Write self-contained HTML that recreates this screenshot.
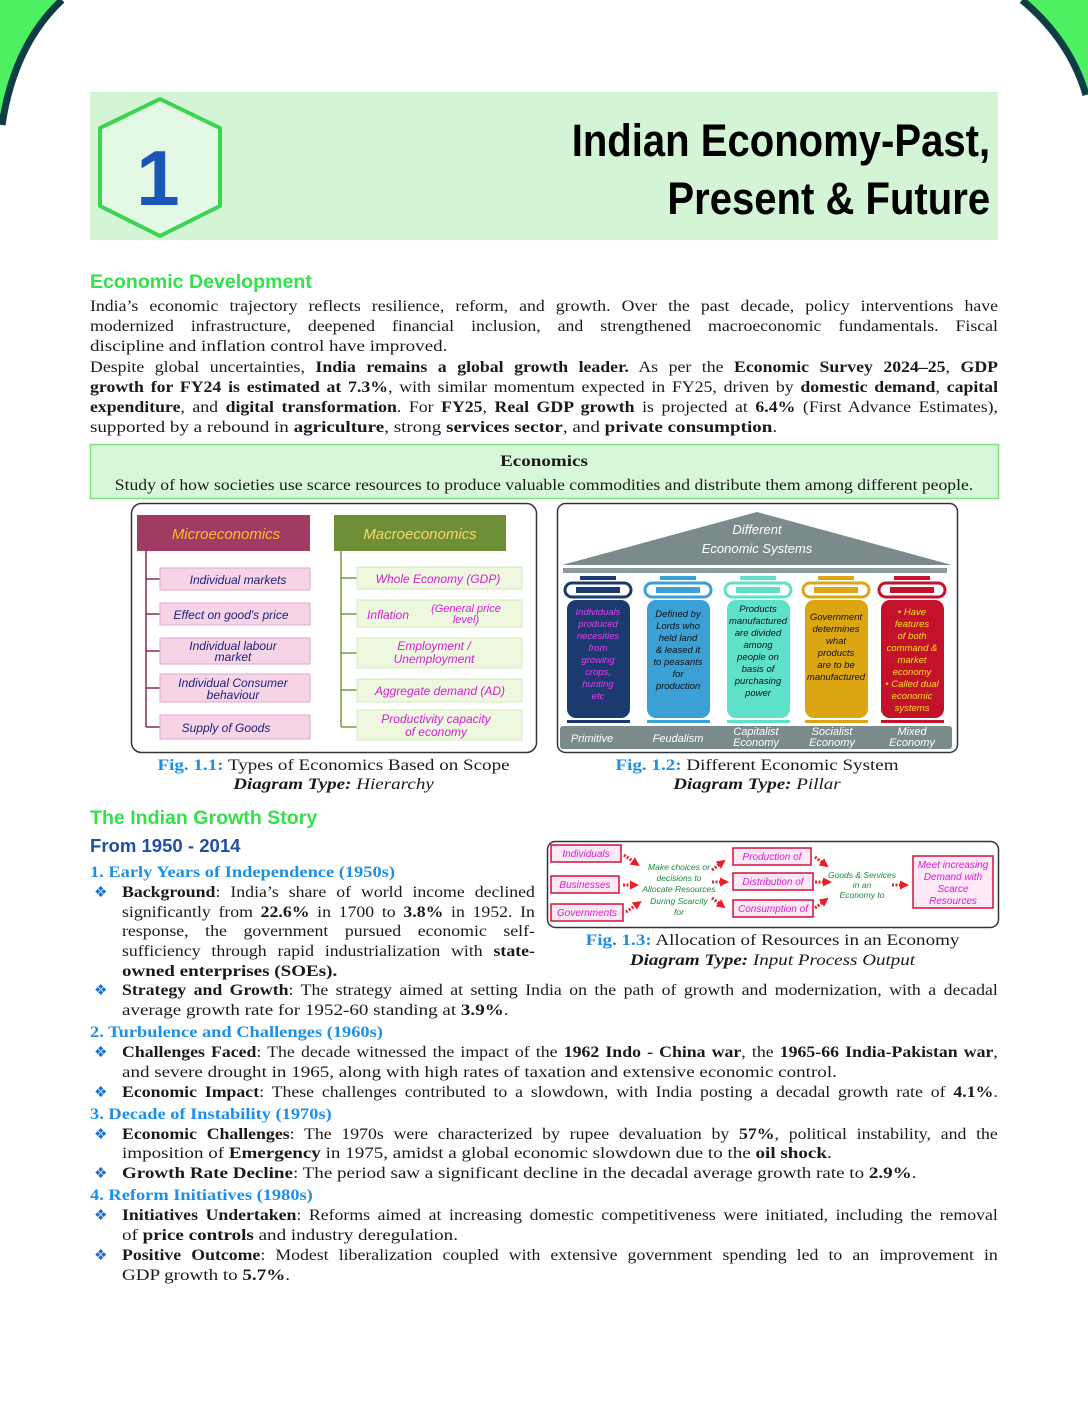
<!DOCTYPE html>
<html><head><meta charset="utf-8">
<style>
*{margin:0;padding:0;box-sizing:border-box}
html,body{width:1088px;height:1408px;background:#fff;overflow:hidden}
body{position:relative;font-family:"Liberation Serif",serif;font-size:16px;color:#1a1a1a}
.l{position:absolute;height:20px;line-height:20px;white-space:nowrap;transform-origin:0 0;transform:scaleX(1.19)}
.c{transform-origin:50% 0}
.l.j{text-align:justify;text-align-last:justify;white-space:normal;overflow:hidden;transform:scaleX(1.11)}
.w1{width:818px}.w2{width:789px}.w3{width:372px}
.b{font-weight:bold}
.l.h{font-family:"Liberation Sans",sans-serif;font-weight:bold;color:#34e04c;font-size:19px;height:24px;line-height:24px;transform:scaleX(1.03)}
.l.sh{font-weight:bold;color:#1e8fe6;transform:scaleX(1.15)}
.bu{position:absolute;left:94px;color:#1e6fd0;font-size:15px;height:20px;line-height:20px}
.cap{text-align:center;font-size:16px}
.cap .f{color:#1e8fe6;font-weight:bold}
svg text{font-family:"Liberation Sans",sans-serif}
</style></head><body>
<svg width="1088" height="1408" style="position:absolute;left:0;top:0">
<defs><marker id="a" markerUnits="userSpaceOnUse" markerWidth="9" markerHeight="9" refX="2" refY="4.5" orient="auto"><path d="M0,0 L9,4.5 L0,9 Z" fill="#e8202a"/></marker></defs>
<path d="M0,0 L62,0 Q12,45 0,125 Z" fill="#4cf060"/>
<path d="M62,0 Q14,45 2,125" fill="none" stroke="#0f3d45" stroke-width="7"/>
<path d="M1088,0 L1022,0 Q1072,40 1088,95 Z" fill="#4cf060"/>
<path d="M1022,0 Q1070,40 1086,95" fill="none" stroke="#0f3d45" stroke-width="7"/>
<rect x="90" y="92" width="908" height="148" fill="#d3f5d6"/>
<polygon points="160,99 220,128 220,206 160,236 100,206 100,128" fill="#e4f8e6" stroke="#3cd34e" stroke-width="4" stroke-linejoin="round"/>
<text x="158" y="205" font-size="78" font-weight="bold" fill="#1a55b8" text-anchor="middle">1</text>
<rect x="90.5" y="444.5" width="908" height="54" fill="#d6f7d8" stroke="#7fe082" stroke-width="1.5"/>

<rect x="131.5" y="503.5" width="405" height="249" rx="10" fill="#fff" stroke="#333" stroke-width="1.5"/>
<rect x="137" y="515" width="173" height="36" fill="#a23b63"/>
<text x="226" y="539" font-size="15" fill="#f6c02a" text-anchor="middle" font-style="italic">Microeconomics</text>
<rect x="334" y="515" width="172" height="36" fill="#6f8f36"/>
<text x="420" y="539" font-size="15" fill="#f5d76e" text-anchor="middle" font-style="italic">Macroeconomics</text>
<g stroke="#8a2a4a" stroke-width="1.5"><line x1="146" y1="551" x2="146" y2="727"/>
<line x1="146" y1="579" x2="160" y2="579"/><line x1="146" y1="614" x2="160" y2="614"/><line x1="146" y1="651" x2="160" y2="651"/><line x1="146" y1="688" x2="160" y2="688"/><line x1="146" y1="727" x2="160" y2="727"/></g>
<g fill="#f7d3e6" stroke="#e0a8c8"><rect x="160" y="568" width="150" height="22"/><rect x="160" y="603" width="150" height="22"/><rect x="160" y="638" width="150" height="26"/><rect x="160" y="674" width="150" height="28"/><rect x="160" y="715" width="150" height="24"/></g>
<g fill="#1a237e" font-size="12" text-anchor="middle" font-style="italic">
<text x="238" y="584">Individual markets</text><text x="231" y="619">Effect on good's price</text>
<text x="233" y="650">Individual labour</text><text x="233" y="661">market</text>
<text x="233" y="687">Individual Consumer</text><text x="233" y="699">behaviour</text>
<text x="226" y="732">Supply of Goods</text></g>
<g stroke="#7a9a40" stroke-width="1.5"><line x1="341" y1="551" x2="341" y2="727"/>
<line x1="341" y1="578" x2="357" y2="578"/><line x1="341" y1="614" x2="357" y2="614"/><line x1="341" y1="653" x2="357" y2="653"/><line x1="341" y1="690" x2="357" y2="690"/><line x1="341" y1="727" x2="357" y2="727"/></g>
<g fill="#eef8df" stroke="#d5e8c0"><rect x="357" y="567" width="165" height="22"/><rect x="357" y="600" width="165" height="27"/><rect x="357" y="638" width="165" height="30"/><rect x="357" y="679" width="165" height="23"/><rect x="357" y="710" width="165" height="30"/></g>
<g fill="#d81bd8" font-size="12" text-anchor="middle" font-style="italic">
<text x="438" y="583">Whole Economy (GDP)</text>
<text x="388" y="619">Inflation</text><text x="466" y="612" font-size="11">(General price</text><text x="466" y="623" font-size="11">level)</text>
<text x="434" y="650">Employment /</text><text x="434" y="663">Unemployment</text>
<text x="440" y="695">Aggregate demand (AD)</text>
<text x="436" y="723">Productivity capacity</text><text x="436" y="736">of economy</text></g>

<rect x="557.5" y="503.5" width="400" height="249" rx="8" fill="#fff" stroke="#333" stroke-width="1.5"/>
<polygon points="562,565 757,512 952,565" fill="#7b8b8b"/>
<text x="757" y="534" font-size="13" fill="#fff" text-anchor="middle" font-style="italic">Different</text>
<text x="757" y="553" font-size="13" fill="#fff" text-anchor="middle" font-style="italic">Economic Systems</text>
<rect x="563" y="568" width="384" height="5" fill="#8a9a9a"/>
<g>
<rect x="580" y="576" width="36" height="4" fill="#1b3a6e"/><rect x="565" y="583" width="66" height="14" rx="7" fill="#fff" stroke="#1b3a6e" stroke-width="3"/><rect x="576" y="587" width="44" height="6" fill="#1b3a6e"/><rect x="567" y="600" width="63" height="118" rx="9" fill="#1b3a6e"/><rect x="567" y="720" width="63" height="3" fill="#1b3a6e"/>
<rect x="660" y="576" width="36" height="4" fill="#3aa0d5"/><rect x="645" y="583" width="66" height="14" rx="7" fill="#fff" stroke="#3aa0d5" stroke-width="3"/><rect x="656" y="587" width="44" height="6" fill="#3aa0d5"/><rect x="647" y="600" width="63" height="118" rx="9" fill="#3aa0d5"/><rect x="647" y="720" width="63" height="3" fill="#3aa0d5"/>
<rect x="740" y="576" width="36" height="4" fill="#5fe0c8"/><rect x="725" y="583" width="66" height="14" rx="7" fill="#fff" stroke="#5fe0c8" stroke-width="3"/><rect x="736" y="587" width="44" height="6" fill="#5fe0c8"/><rect x="727" y="600" width="63" height="118" rx="9" fill="#5fe0c8"/><rect x="727" y="720" width="63" height="3" fill="#5fe0c8"/>
<rect x="818" y="576" width="36" height="4" fill="#dca512"/><rect x="803" y="583" width="66" height="14" rx="7" fill="#fff" stroke="#dca512" stroke-width="3"/><rect x="814" y="587" width="44" height="6" fill="#dca512"/><rect x="805" y="600" width="63" height="118" rx="9" fill="#dca512"/><rect x="805" y="720" width="63" height="3" fill="#dca512"/>
<rect x="894" y="576" width="36" height="4" fill="#c4122c"/><rect x="879" y="583" width="66" height="14" rx="7" fill="#fff" stroke="#c4122c" stroke-width="3"/><rect x="890" y="587" width="44" height="6" fill="#c4122c"/><rect x="881" y="600" width="63" height="118" rx="9" fill="#c4122c"/><rect x="881" y="720" width="63" height="3" fill="#c4122c"/>
</g>
<g font-size="9.5" text-anchor="middle" font-style="italic">
<g fill="#e040f0"><text x="598" y="615">Individuals</text><text x="598" y="627">produced</text><text x="598" y="639">necesities</text><text x="598" y="651">from</text><text x="598" y="663">growing</text><text x="598" y="675">crops,</text><text x="598" y="687">hunting</text><text x="598" y="699">etc</text></g>
<g fill="#111"><text x="678" y="617">Defined by</text><text x="678" y="629">Lords who</text><text x="678" y="641">held land</text><text x="678" y="653">&amp; leased it</text><text x="678" y="665">to peasants</text><text x="678" y="677">for</text><text x="678" y="689">production</text>
<text x="758" y="612">Products</text><text x="758" y="624">manufactured</text><text x="758" y="636">are divided</text><text x="758" y="648">among</text><text x="758" y="660">people on</text><text x="758" y="672">basis of</text><text x="758" y="684">purchasing</text><text x="758" y="696">power</text>
<text x="836" y="620">Government</text><text x="836" y="632">determines</text><text x="836" y="644">what</text><text x="836" y="656">products</text><text x="836" y="668">are to be</text><text x="836" y="680">manufactured</text></g>
<g fill="#f5e020"><text x="912" y="615">• Have</text><text x="912" y="627">features</text><text x="912" y="639">of both</text><text x="912" y="651">command &amp;</text><text x="912" y="663">market</text><text x="912" y="675">economy</text><text x="912" y="687">• Called dual</text><text x="912" y="699">economic</text><text x="912" y="711">systems</text></g></g>
<rect x="560" y="726" width="392" height="23" rx="3" fill="#7b8b8b"/>
<g fill="#fff" font-size="11" text-anchor="middle" font-style="italic"><text x="592" y="742">Primitive</text><text x="678" y="742">Feudalism</text><text x="756" y="735">Capitalist</text><text x="756" y="746">Economy</text><text x="832" y="735">Socialist</text><text x="832" y="746">Economy</text><text x="912" y="735">Mixed</text><text x="912" y="746">Economy</text></g>

<rect x="547.5" y="841.5" width="451" height="86" rx="8" fill="#fff" stroke="#333" stroke-width="1.5"/>
<g fill="#fde8f5" stroke="#d0103a" stroke-width="1.5">
<rect x="551" y="845" width="70" height="17"/><rect x="551" y="876" width="68" height="17"/><rect x="551" y="904" width="72" height="17"/>
<rect x="733" y="848" width="78" height="17"/><rect x="733" y="873" width="80" height="17"/><rect x="733" y="900" width="80" height="17"/>
<rect x="913" y="856" width="80" height="52"/></g>
<g fill="#d81bd8" font-size="10" text-anchor="middle" font-style="italic">
<text x="586" y="857">Individuals</text><text x="585" y="888">Businesses</text><text x="587" y="916">Governments</text>
<text x="772" y="860">Production of</text><text x="773" y="885">Distribution of</text><text x="773" y="912">Consumption of</text>
<text x="953" y="868">Meet increasing</text><text x="953" y="880">Demand with</text><text x="953" y="892">Scarce</text><text x="953" y="904">Resources</text></g>
<g fill="#1a8a3a" font-size="8.5" text-anchor="middle" font-style="italic">
<text x="679" y="870">Make choices or</text><text x="679" y="881">decisions to</text><text x="679" y="892">Allocate Resources</text><text x="679" y="904">During Scarcity</text><text x="679" y="915">for</text>
<text x="862" y="878">Goods &amp; Services</text><text x="862" y="888">in an</text><text x="862" y="898">Economy to</text></g>
<g stroke="#e8202a" stroke-width="3" stroke-dasharray="2,1.5" fill="none" marker-end="url(#a)">
<line x1="624" y1="855" x2="634" y2="862"/><line x1="623" y1="885" x2="632" y2="885"/><line x1="626" y1="912" x2="636" y2="905"/>
<line x1="712" y1="870" x2="720" y2="864"/><line x1="712" y1="882" x2="722" y2="882"/><line x1="712" y1="898" x2="720" y2="904"/>
<line x1="815" y1="857" x2="823" y2="863"/><line x1="815" y1="882" x2="825" y2="882"/><line x1="815" y1="908" x2="823" y2="902"/>
<line x1="892" y1="885" x2="902" y2="885"/></g>
</svg>

<div style="position:absolute;right:98px;top:112px;text-align:right;font-family:'Liberation Sans Narrow','Liberation Sans',sans-serif;font-weight:bold;font-size:45px;line-height:58px;color:#000;transform-origin:100% 0;transform:scaleX(0.89)">Indian Economy-Past,<br>Present &amp; Future</div>

<div class="l h" style="left:90px;top:271px">Economic Development</div>
<div class="l j w1" style="left:90px;top:297px">India’s economic trajectory reflects resilience, reform, and growth. Over the past decade, policy interventions have</div>
<div class="l j w1" style="left:90px;top:317px">modernized infrastructure, deepened financial inclusion, and strengthened macroeconomic fundamentals. Fiscal</div>
<div class="l" style="left:90px;top:337px">discipline and inflation control have improved.</div>
<div class="l j w1" style="left:90px;top:358px">Despite global uncertainties, <b>India remains a global growth leader.</b> As per the <b>Economic Survey 2024–25</b>, <b>GDP</b></div>
<div class="l j w1" style="left:90px;top:378px"><b>growth for FY24 is estimated at 7.3%</b>, with similar momentum expected in FY25, driven by <b>domestic demand</b>, <b>capital</b></div>
<div class="l j w1" style="left:90px;top:398px"><b>expenditure</b>, and <b>digital transformation</b>. For <b>FY25</b>, <b>Real GDP growth</b> is projected at <b>6.4%</b> (First Advance Estimates),</div>
<div class="l" style="left:90px;top:418px">supported by a rebound in <b>agriculture</b>, strong <b>services sector</b>, and <b>private consumption</b>.</div>

<div class="l c b" style="left:90px;top:452px;width:908px;text-align:center">Economics</div>
<div class="l c" style="left:90px;top:476px;width:908px;text-align:center;transform:scaleX(1.1)">Study of how societies use scarce resources to produce valuable commodities and distribute them among different people.</div>

<div class="l c cap" style="left:90px;top:756px;width:487px"><span class="f">Fig. 1.1:</span> Types of Economics Based on Scope</div>
<div class="l c cap" style="left:90px;top:775px;width:487px"><b><i>Diagram Type:</i></b> <i>Hierarchy</i></div>
<div class="l c cap" style="left:557px;top:756px;width:400px"><span class="f">Fig. 1.2:</span> Different Economic System</div>
<div class="l c cap" style="left:557px;top:775px;width:400px"><b><i>Diagram Type:</i></b> <i>Pillar</i></div>
<div class="l c cap" style="left:547px;top:931px;width:451px"><span class="f">Fig. 1.3:</span> Allocation of Resources in an Economy</div>
<div class="l c cap" style="left:547px;top:951px;width:451px"><b><i>Diagram Type:</i></b> <i>Input Process Output</i></div>

<div class="l h" style="left:90px;top:807px">The Indian Growth Story</div>
<div class="l h" style="left:90px;top:834px;color:#1f4fa3;font-size:18px">From 1950 - 2014</div>
<div class="l sh" style="left:90px;top:863px">1. Early Years of Independence (1950s)</div>
<div class="bu" style="top:883px">❖</div>
<div class="l j w3" style="left:122px;top:883px"><b>Background</b>: India’s share of world income declined</div>
<div class="l j w3" style="left:122px;top:903px">significantly from <b>22.6%</b> in 1700 to <b>3.8%</b> in 1952. In</div>
<div class="l j w3" style="left:122px;top:922px">response, the government pursued economic self-</div>
<div class="l j w3" style="left:122px;top:942px">sufficiency through rapid industrialization with <b>state-</b></div>
<div class="l b" style="left:122px;top:962px">owned enterprises (SOEs).</div>
<div class="bu" style="top:981px">❖</div>
<div class="l j w2" style="left:122px;top:981px"><b>Strategy and Growth</b>: The strategy aimed at setting India on the path of growth and modernization, with a decadal</div>
<div class="l" style="left:122px;top:1001px">average growth rate for 1952-60 standing at <b>3.9%</b>.</div>

<div class="l sh" style="left:90px;top:1023px">2. Turbulence and Challenges (1960s)</div>
<div class="bu" style="top:1043px">❖</div>
<div class="l j w2" style="left:122px;top:1043px"><b>Challenges Faced</b>: The decade witnessed the impact of the <b>1962 Indo - China war</b>, the <b>1965-66 India-Pakistan war</b>,</div>
<div class="l" style="left:122px;top:1063px">and severe drought in 1965, along with high rates of taxation and extensive economic control.</div>
<div class="bu" style="top:1083px">❖</div>
<div class="l j w2" style="left:122px;top:1083px"><b>Economic Impact</b>: These challenges contributed to a slowdown, with India posting a decadal growth rate of <b>4.1%</b>.</div>

<div class="l sh" style="left:90px;top:1105px">3. Decade of Instability (1970s)</div>
<div class="bu" style="top:1125px">❖</div>
<div class="l j w2" style="left:122px;top:1125px"><b>Economic Challenges</b>: The 1970s were characterized by rupee devaluation by <b>57%</b>, political instability, and the</div>
<div class="l" style="left:122px;top:1144px">imposition of <b>Emergency</b> in 1975, amidst a global economic slowdown due to the <b>oil shock</b>.</div>
<div class="bu" style="top:1164px">❖</div>
<div class="l" style="left:122px;top:1164px"><b>Growth Rate Decline</b>: The period saw a significant decline in the decadal average growth rate to <b>2.9%</b>.</div>

<div class="l sh" style="left:90px;top:1186px">4. Reform Initiatives (1980s)</div>
<div class="bu" style="top:1206px">❖</div>
<div class="l j w2" style="left:122px;top:1206px"><b>Initiatives Undertaken</b>: Reforms aimed at increasing domestic competitiveness were initiated, including the removal</div>
<div class="l" style="left:122px;top:1226px">of <b>price controls</b> and industry deregulation.</div>
<div class="bu" style="top:1246px">❖</div>
<div class="l j w2" style="left:122px;top:1246px"><b>Positive Outcome</b>: Modest liberalization coupled with extensive government spending led to an improvement in</div>
<div class="l" style="left:122px;top:1266px">GDP growth to <b>5.7%</b>.</div>
</body></html>
